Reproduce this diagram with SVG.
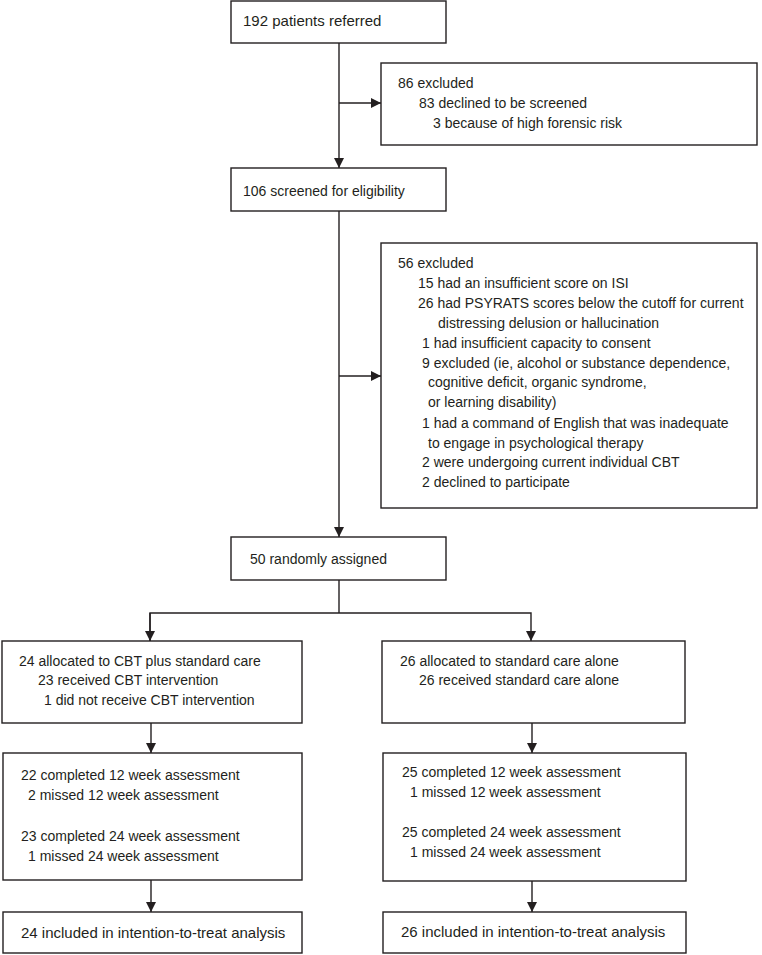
<svg xmlns="http://www.w3.org/2000/svg" width="762" height="955" viewBox="0 0 762 955">
<style>
.box{fill:#fff;stroke:#231f20;stroke-width:1.4}
.ln{fill:none;stroke:#231f20;stroke-width:1.4}
text{font-family:"Liberation Sans",Arial,sans-serif;font-size:14px;fill:#231f20}
.big{font-size:15px}
</style>
<defs>
<marker id="ah" viewBox="0 0 10 10" refX="10" refY="5" markerWidth="10" markerHeight="10" markerUnits="userSpaceOnUse" orient="auto">
<path d="M0,0 L10,5 L0,10 Z" fill="#231f20"/>
</marker>
</defs>
<rect width="762" height="955" fill="#fff"/>
<g id="connectors">
<line class="ln" x1="339" y1="43" x2="339" y2="168" marker-end="url(#ah)"/>
<line class="ln" x1="339" y1="103" x2="381" y2="103" marker-end="url(#ah)"/>
<line class="ln" x1="339" y1="211" x2="339" y2="537" marker-end="url(#ah)"/>
<line class="ln" x1="339" y1="376" x2="381" y2="376" marker-end="url(#ah)"/>
<polyline class="ln" points="339,580 339,613"/>
<polyline class="ln" points="150,641 150,613 531,613 531,641" marker-end="url(#ah)"/>
<polyline class="ln" points="150,613 150,641" marker-end="url(#ah)"/>
<line class="ln" x1="151" y1="723" x2="151" y2="753" marker-end="url(#ah)"/>
<line class="ln" x1="532" y1="723" x2="532" y2="753" marker-end="url(#ah)"/>
<line class="ln" x1="151" y1="880" x2="151" y2="912" marker-end="url(#ah)"/>
<line class="ln" x1="532" y1="881" x2="532" y2="912" marker-end="url(#ah)"/>
</g>
<g id="referred">
<rect class="box" x="231" y="1" width="215" height="42"/>
<text x="243" y="26" class="big">192 patients referred</text>
</g>
<g id="excluded1">
<rect class="box" x="381" y="63" width="376" height="82"/>
<text x="398" y="88">86 excluded</text>
<text x="419" y="108">83 declined to be screened</text>
<text x="433" y="128">3 because of high forensic risk</text>
</g>
<g id="screened">
<rect class="box" x="231" y="168" width="215" height="43"/>
<text x="243" y="196">106 screened for eligibility</text>
</g>
<g id="excluded2">
<rect class="box" x="381" y="243" width="376" height="265"/>
<text x="398" y="268">56 excluded</text>
<text x="418" y="288">15 had an insufficient score on ISI</text>
<text x="418" y="308">26 had PSYRATS scores below the cutoff for current</text>
<text x="438" y="328">distressing delusion or hallucination</text>
<text x="422" y="348">1 had insufficient capacity to consent</text>
<text x="422" y="368">9 excluded (ie, alcohol or substance dependence,</text>
<text x="428" y="387">cognitive deficit, organic syndrome,</text>
<text x="428" y="407">or learning disability)</text>
<text x="422" y="428">1 had a command of English that was inadequate</text>
<text x="428" y="448">to engage in psychological therapy</text>
<text x="422" y="467">2 were undergoing current individual CBT</text>
<text x="422" y="487">2 declined to participate</text>
</g>
<g id="randomised">
<rect class="box" x="231" y="537" width="215" height="43"/>
<text x="250" y="564">50 randomly assigned</text>
</g>
<g id="alloc-cbt">
<rect class="box" x="2" y="641" width="300" height="82"/>
<text x="19" y="666">24 allocated to CBT plus standard care</text>
<text x="38" y="685">23 received CBT intervention</text>
<text x="44" y="705">1 did not receive CBT intervention</text>
</g>
<g id="alloc-sc">
<rect class="box" x="382" y="641" width="303" height="82"/>
<text x="400" y="666">26 allocated to standard care alone</text>
<text x="419" y="685">26 received standard care alone</text>
</g>
<g id="followup-cbt">
<rect class="box" x="3" y="753" width="299" height="127"/>
<text x="21" y="780">22 completed 12 week assessment</text>
<text x="28" y="800">2 missed 12 week assessment</text>
<text x="21" y="841">23 completed 24 week assessment</text>
<text x="28" y="861">1 missed 24 week assessment</text>
</g>
<g id="followup-sc">
<rect class="box" x="383" y="753" width="303" height="128"/>
<text x="402" y="777">25 completed 12 week assessment</text>
<text x="410" y="797">1 missed 12 week assessment</text>
<text x="402" y="837">25 completed 24 week assessment</text>
<text x="410" y="857">1 missed 24 week assessment</text>
</g>
<g id="itt-cbt">
<rect class="box" x="3" y="912" width="299" height="41"/>
<text x="21" y="938" class="big">24 included in intention-to-treat analysis</text>
</g>
<g id="itt-sc">
<rect class="box" x="383" y="912" width="303" height="41"/>
<text x="401" y="937" class="big">26 included in intention-to-treat analysis</text>
</g>
</svg>
